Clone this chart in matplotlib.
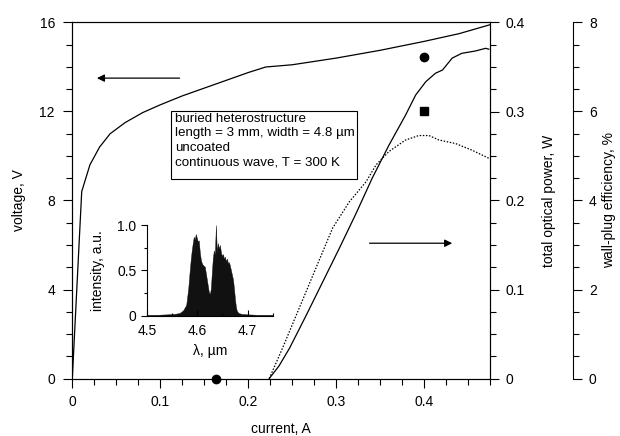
import matplotlib
matplotlib.use("Agg")
import matplotlib.pyplot as plt
from matplotlib.ticker import MultipleLocator, FixedLocator
from matplotlib.patches import Rectangle

plt.rcParams['font.family'] = ['Liberation Sans', 'DejaVu Sans']
plt.rcParams['font.size'] = 10

# ---- data ----
current_v = [0, 0.0107, 0.020, 0.031, 0.043, 0.06, 0.08, 0.10, 0.125, 0.15, 0.175, 0.20, 0.22, 0.25, 0.30, 0.35, 0.40, 0.44, 0.475]
voltage = [0, 8.4, 9.6, 10.4, 11.0, 11.5, 11.95, 12.3, 12.7, 13.05, 13.4, 13.75, 14.0, 14.1, 14.4, 14.75, 15.15, 15.5, 15.9]

current_p = [0.224, 0.235, 0.247, 0.266, 0.285, 0.3035, 0.322, 0.341, 0.360, 0.379, 0.3905, 0.402, 0.413, 0.421, 0.432, 0.443, 0.4585, 0.470, 0.4736]
power = [0.0, 0.014, 0.034, 0.071, 0.109, 0.146, 0.184, 0.225, 0.262, 0.296, 0.3186, 0.3335, 0.343, 0.3466, 0.360, 0.3654, 0.368, 0.371, 0.370]

current_e = [0.224, 0.239, 0.258, 0.277, 0.296, 0.315, 0.334, 0.3454, 0.360, 0.379, 0.394, 0.4056, 0.4169, 0.4358, 0.4547, 0.4736]
efficiency = [0.0, 0.68, 1.58, 2.48, 3.38, 3.97, 4.42, 4.80, 5.10, 5.36, 5.46, 5.46, 5.36, 5.28, 5.13, 4.95]

marker_circle = (0.40, 0.3616)
marker_square = (0.40, 0.301)
marker_bottom = (0.1637, 0.0)

lam = [4.50, 4.52, 4.54, 4.555, 4.565, 4.572, 4.578, 4.582, 4.585, 4.587, 4.589, 4.591, 4.593, 4.595,
       4.597, 4.599, 4.601, 4.603, 4.605, 4.607, 4.609, 4.611, 4.613, 4.615, 4.617, 4.619, 4.621, 4.623,
       4.625, 4.627, 4.629, 4.631, 4.633, 4.635, 4.637, 4.639, 4.641, 4.643, 4.645, 4.647, 4.649, 4.651,
       4.653, 4.655, 4.657, 4.659, 4.661, 4.663, 4.665, 4.667, 4.669, 4.671, 4.673, 4.675, 4.677, 4.679,
       4.682, 4.688, 4.70, 4.72, 4.75]
intensity = [0.01, 0.01, 0.015, 0.02, 0.03, 0.06, 0.12, 0.30, 0.50, 0.62, 0.72, 0.80, 0.87, 0.84,
             0.90, 0.86, 0.82, 0.83, 0.70, 0.62, 0.58, 0.56, 0.55, 0.54, 0.47, 0.40, 0.33, 0.26,
             0.24, 0.30, 0.48, 0.64, 0.72, 0.68, 1.00, 0.70, 0.80, 0.74, 0.78, 0.70, 0.66, 0.68,
             0.63, 0.65, 0.60, 0.63, 0.58, 0.59, 0.55, 0.50, 0.45, 0.40, 0.30, 0.18, 0.09, 0.05,
             0.03, 0.02, 0.015, 0.01, 0.01]

info_lines = ["buried heterostructure",
              "length = 3 mm, width = 4.8 \u00b5m",
              "uncoated",
              "continuous wave, T = 300 K"]

# ---- figure ----
W, H = 620, 436
fig = plt.figure(figsize=(6.2, 4.36), dpi=100)
L, R, B, T = 72.3, 490.0, 378.5, 22.5
ax1 = fig.add_axes([L / W, 1 - B / H, (R - L) / W, (B - T) / H])
ax2 = ax1.twinx()
ax3 = ax1.twinx()

lw = 0.9
ax1.plot(current_v, voltage, color='black', lw=lw)
ax2.plot(current_p, power, color='black', lw=lw)
ax3.plot(current_e, efficiency, color='black', lw=lw, linestyle=(0, (1.2, 1.3)))

ax2.plot(*marker_circle, marker='o', ms=6, color='black', mec='black')
ax2.plot(*marker_square, marker='s', ms=6.3, color='black', mec='black')
ax1.plot(*marker_bottom, marker='o', ms=6, color='black', clip_on=False, zorder=5)

ax1.set_xlim(0, 0.475)
ax1.set_ylim(0, 16)
ax2.set_ylim(0, 0.4)
ax3.set_ylim(0, 8)

ax1.xaxis.set_major_locator(FixedLocator([0, 0.1, 0.2, 0.3, 0.4]))
ax1.xaxis.set_minor_locator(MultipleLocator(0.025))
ax1.set_xticklabels(['0', '0.1', '0.2', '0.3', '0.4'])
ax1.yaxis.set_major_locator(MultipleLocator(4))
ax1.yaxis.set_minor_locator(MultipleLocator(1))
ax2.yaxis.set_major_locator(FixedLocator([0, 0.1, 0.2, 0.3, 0.4]))
ax2.set_yticklabels(['0', '0.1', '0.2', '0.3', '0.4'])
ax2.yaxis.set_minor_locator(MultipleLocator(0.025))
ax3.yaxis.set_major_locator(MultipleLocator(2))
ax3.yaxis.set_minor_locator(MultipleLocator(0.5))

for a in (ax1, ax2, ax3):
    a.tick_params(which='major', direction='out', length=6.5, width=0.8, labelsize=10, pad=5)
    a.tick_params(which='minor', direction='out', length=4, width=0.8)
    for s in a.spines.values():
        s.set_linewidth(0.8)
ax1.tick_params(axis='y', pad=6)
ax1.tick_params(axis='x', pad=5.5)

ax3.spines['right'].set_position(('axes', (573 - L) / (R - L)))
for s in ('top', 'left', 'bottom'):
    ax3.spines[s].set_visible(False)

ax1.set_xlabel('current, A', fontsize=10, labelpad=9)
ax1.set_ylabel('voltage, V', fontsize=10, labelpad=10)
ax2.set_ylabel('total optical power, W', fontsize=10, labelpad=12)
ax3.set_ylabel('wall-plug efficiency, %', fontsize=10, labelpad=4)

# arrows
ax1.annotate('', xy=(0.028, 13.5), xytext=(0.122, 13.5),
             arrowprops=dict(arrowstyle='-|>', color='black', lw=0.9, mutation_scale=11, shrinkA=0, shrinkB=0))
ax2.annotate('', xy=(0.432, 0.152), xytext=(0.338, 0.152),
             arrowprops=dict(arrowstyle='-|>', color='black', lw=0.9, mutation_scale=11, shrinkA=0, shrinkB=0))

# info box
bx0 = (171 - L) / (R - L)
bx1 = (357 - L) / (R - L)
by0 = (B - 179) / (B - T)
by1 = (B - 111) / (B - T)
ax1.add_patch(Rectangle((bx0, by0), bx1 - bx0, by1 - by0, transform=ax1.transAxes,
                        facecolor='white', edgecolor='black', lw=0.8, zorder=6))
ax1.text((175 - L) / (R - L), (B - 113.0) / (B - T), "\n".join(info_lines), transform=ax1.transAxes,
         ha='left', va='top', fontsize=9.6, linespacing=1.26, zorder=7)

# inset
il, ir, ib, it = 147.0, 272.7, 315.7, 225.0
axi = fig.add_axes([il / W, 1 - ib / H, (ir - il) / W, (ib - it) / H])
axi.fill_between(lam, intensity, 0, color='#111111', lw=0.3, edgecolor='#111111')
axi.set_xlim(4.5, 4.75)
axi.set_ylim(0, 1.0)
axi.spines['top'].set_visible(False)
axi.spines['right'].set_visible(False)
axi.patch.set_alpha(0)
for s in axi.spines.values():
    s.set_linewidth(0.8)
axi.xaxis.set_major_locator(FixedLocator([4.5, 4.6, 4.7]))
axi.set_xticklabels(['4.5', '4.6', '4.7'])
axi.xaxis.set_minor_locator(MultipleLocator(0.05))
axi.yaxis.set_major_locator(FixedLocator([0, 0.5, 1.0]))
axi.set_yticklabels(['0', '0.5', '1.0'])
axi.yaxis.set_minor_locator(MultipleLocator(0.25))
axi.tick_params(axis='x', which='major', direction='in', length=4, width=0.8, labelsize=10, pad=6)
axi.tick_params(axis='x', which='minor', direction='in', length=2.5, width=0.8)
axi.tick_params(axis='y', which='major', direction='out', length=4, width=0.8, labelsize=10, pad=3.5)
axi.tick_params(axis='y', which='minor', direction='out', length=2.5, width=0.8)
axi.set_xlabel('\u03bb, \u00b5m', fontsize=10, labelpad=4)
axi.set_ylabel('intensity, a.u.', fontsize=10, labelpad=9)

fig.savefig('out.png', dpi=100)
